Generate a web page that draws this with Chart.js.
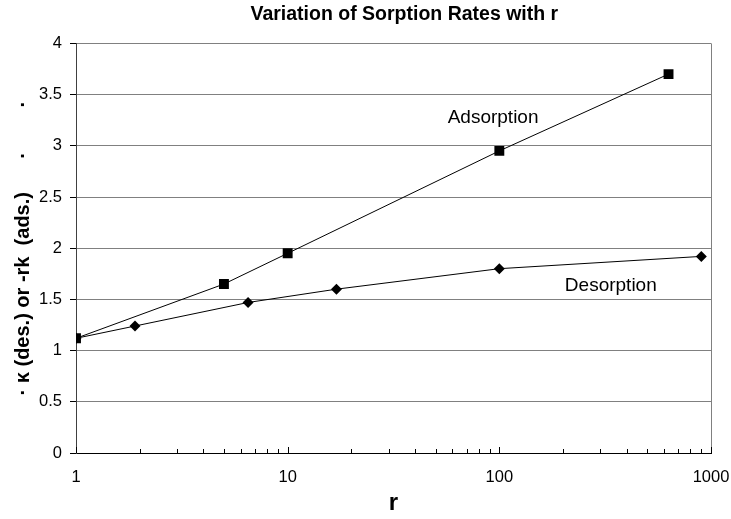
<!DOCTYPE html>
<html>
<head>
<meta charset="utf-8">
<script src="https://cdn.jsdelivr.net/npm/chart.js@4/dist/chart.umd.min.js"></script>
<style>
  html, body { margin: 0; padding: 0; background: #fff; }
  #wrap { width: 731px; height: 519px; position: relative; }
</style>
</head>
<body>
<div id="wrap"><canvas id="chart-canvas"></canvas></div>
<script>
// data
var adsR = [1, 5, 10, 100, 630];
var adsK = [1.12, 1.65, 1.95, 2.95, 3.70];
var desR = [1, 1.9, 6.5, 17, 100, 900];
var desK = [1.12, 1.24, 1.47, 1.60, 1.80, 1.92];
var yTicks = [0, 0.5, 1, 1.5, 2, 2.5, 3, 3.5, 4];
var xTickLabels = [1, 10, 100, 1000];
var noteText = ["Adsorption", "Desorption"];
var noteR = [57, 204];
var noteK = [3.27, 1.63];

var FONT = "Arial, 'Liberation Sans', sans-serif";

function pts(xs, ys){
  var out = [];
  for (var i = 0; i < xs.length; i++) out.push({x: xs[i], y: ys[i]});
  return out;
}

var extras = {
  id: "extras",
  afterDraw: function(chart){
    var ctx = chart.ctx, a = chart.chartArea, xs = chart.scales.x;
    ctx.save();
    // right frame line
    ctx.strokeStyle = "#808080";
    ctx.lineWidth = 1;
    ctx.beginPath();
    ctx.moveTo(Math.round(a.right) + 0.5, a.top);
    ctx.lineTo(Math.round(a.right) + 0.5, a.bottom);
    ctx.stroke();
    // inward ticks on log axis
    ctx.strokeStyle = "#000";
    for (var d = 1; d < 1000; d *= 10) {
      for (var m = 1; m <= 10; m++) {
        var v = d * m;
        var px = Math.round(xs.getPixelForValue(v)) + 0.5;
        var len = (m === 1 || m === 10) ? 6 : 4;
        ctx.beginPath();
        ctx.moveTo(px, a.bottom);
        ctx.lineTo(px, a.bottom - len);
        ctx.stroke();
      }
    }
    // series notes
    var ys = chart.scales.y;
    ctx.fillStyle = "#000";
    ctx.font = "19px " + FONT;
    ctx.textAlign = "left";
    ctx.textBaseline = "middle";
    for (var i = 0; i < noteText.length; i++) {
      ctx.fillText(noteText[i], xs.getPixelForValue(noteR[i]), ys.getPixelForValue(noteK[i]));
    }
    ctx.restore();
  }
};

window.onload = function(){
  var ctx = document.getElementById("chart-canvas");
  new Chart(ctx, {
    type: "scatter",
    data: {
      datasets: [
        {
          label: "Adsorption",
          data: pts(adsR, adsK),
          showLine: true,
          borderColor: "#000",
          borderWidth: 1,
          backgroundColor: "#000",
          pointStyle: "rect",
          pointRadius: 7,
          pointBorderWidth: 0,
          pointBackgroundColor: "#000"
        },
        {
          label: "Desorption",
          data: pts(desR, desK),
          showLine: true,
          borderColor: "#000",
          borderWidth: 1,
          backgroundColor: "#000",
          pointStyle: "rectRot",
          pointRadius: 5.5,
          pointBorderWidth: 0,
          pointBackgroundColor: "#000"
        }
      ]
    },
    options: {
      responsive: true,
      maintainAspectRatio: false,
      animation: false,
      layout: { padding: { left: 0, right: 20, top: 0, bottom: 0 } },
      plugins: {
        legend: { display: false },
        tooltip: { enabled: false },
        title: {
          display: true,
          text: "    Variation of Sorption Rates with r",
          fullSize: false,
          color: "#000",
          font: { family: FONT, size: 19.5, weight: "bold" },
          padding: { top: 3, bottom: 17 }
        }
      },
      scales: {
        x: {
          type: "logarithmic",
          min: 1,
          max: 1000,
          afterFit: function(s){
            s.height = 66;
            s.paddingLeft = 0;
            s.paddingRight = 0;
          },
          grid: { display: false, drawTicks: false },
          border: { display: true, color: "#000", width: 1 },
          afterBuildTicks: function(s){
            s.ticks = xTickLabels.map(function(v){ return {value: v}; });
          },
          ticks: {
            autoSkip: false,
            maxRotation: 0,
            padding: 15,
            color: "#000",
            font: { family: FONT, size: 16.5 },
            callback: function(v){ return String(v); }
          },
          title: {
            display: true,
            text: "r",
            color: "#000",
            font: { family: FONT, size: 24, weight: "bold" },
            padding: { top: 0, bottom: 1 }
          }
        },
        y: {
          min: 0,
          max: 4,
          afterFit: function(s){ s.width = 76; },
          afterBuildTicks: function(s){
            s.ticks = yTicks.map(function(v){ return {value: v}; });
          },
          grid: {
            color: function(c){ return c.tick && c.tick.value === 0 ? "rgba(0,0,0,0)" : "#808080"; },
            tickColor: "#000",
            tickLength: 6,
            lineWidth: 1
          },
          border: { display: true, color: "#404040", width: 1 },
          ticks: {
            padding: 8,
            color: "#000",
            font: { family: FONT, size: 16.5 },
            callback: function(v){ return String(v); }
          },
          title: {
            display: true,
            text: "\u00b7 \u03ba (des.) or -rk  (ads.)      \u00b7        \u00b7",
            color: "#000",
            font: { family: FONT, size: 20, weight: "bold" },
            padding: { top: 11, bottom: 0 }
          }
        }
      }
    },
    plugins: [extras]
  });
};
</script>
</body>
</html>
